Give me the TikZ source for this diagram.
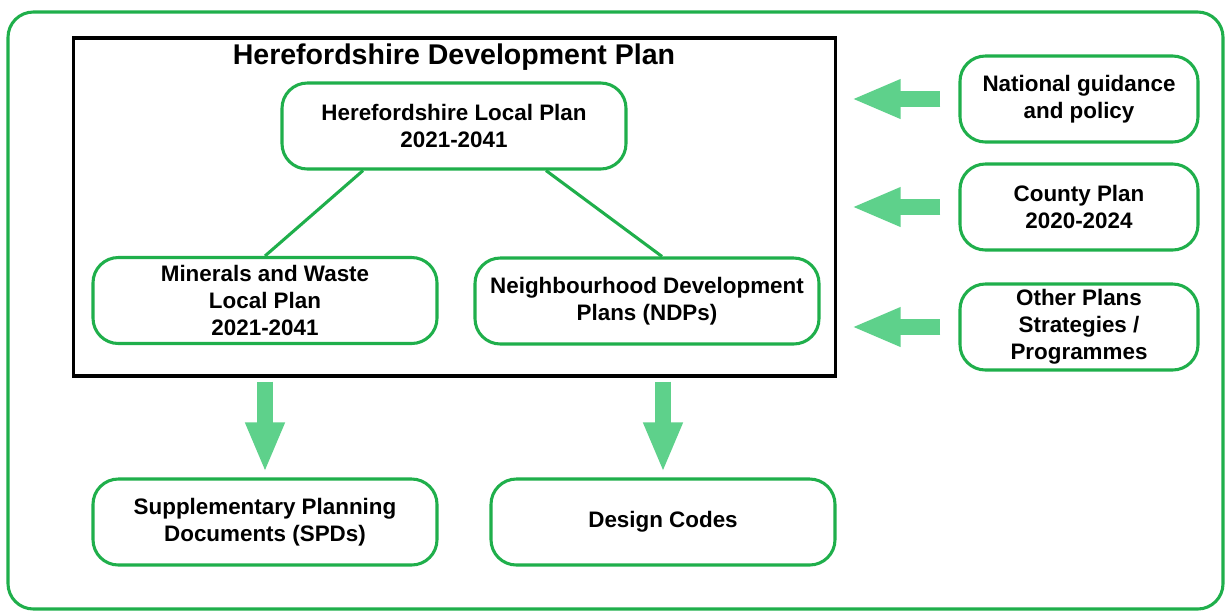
\documentclass[tikz,border=0pt]{standalone}
\usepackage{fontspec}
\setmainfont{Liberation Sans}
\usetikzlibrary{arrows.meta,calc}
\definecolor{frameg}{HTML}{1FAF4B}
\definecolor{arrowg}{HTML}{5ED18B}
\tikzset{
  plannode/.style={draw=frameg, line width=2.3pt, rounded corners=19pt, fill=white,
    minimum width=258pt, minimum height=64.5pt, align=center, inner sep=0pt,
    font=\bfseries\fontsize{16.8}{20.2}\selectfont},
  sidenode/.style={plannode, minimum width=178.5pt},
  link/.style={draw=frameg, line width=2.3pt},
  bigarrow/.style={draw=arrowg, line width=11.5pt, line cap=butt,
    -{Triangle[length=37pt, width=27pt]}},
  bigarrowv/.style={draw=arrowg, line width=12pt, line cap=butt,
    -{Triangle[length=37.5pt, width=27pt]}},
}
\begin{document}
\begin{tikzpicture}[x=0.75pt, y=-0.75pt]
\useasboundingbox (0,0) rectangle (1226,612);
% outer frame
\draw[frameg, line width=2.3pt, rounded corners=19pt] (8,12) rectangle (1223,609);
% development plan box
\node[draw=black, line width=2.3pt, minimum width=572pt, minimum height=253.5pt, inner sep=0pt] (box) at (454.5,207) {};
\node[font=\bfseries\fontsize{21.4}{25}\selectfont] (title) at (454,57.5) {Herefordshire Development Plan};
% nodes
\node[plannode] (lp) at (454,126) {Herefordshire Local Plan\\2021-2041};
\node[plannode] (mw) at (265,300.5) {Minerals and Waste\\Local Plan\\2021-2041};
\node[plannode] (ndp) at (647,301) {Neighbourhood Development\\Plans (NDPs)};
\node[plannode] (spd) at (265,522) {Supplementary Planning\\Documents (SPDs)};
\node[plannode] (dc) at (663,522) {Design Codes};
\node[sidenode] (nat) at (1079,99) {National guidance\\and policy};
\node[sidenode] (cty) at (1079,207) {County Plan\\2020-2024};
\node[sidenode] (oth) at (1079,327) {Other Plans\\Strategies /\\Programmes};
% links
\draw[link] ($(lp.south)+(-91,0)$) -- (mw.north);
\draw[link] ($(lp.south)+(92,0)$) -- ($(ndp.north)+(15,0)$);
% side arrows
\draw[bigarrow] ($(nat.west)+(-18,0)$) -- ($(box.east |- nat.west)+(14,0)$);
\draw[bigarrow] ($(cty.west)+(-18,0)$) -- ($(box.east |- cty.west)+(14,0)$);
\draw[bigarrow] ($(oth.west)+(-18,0)$) -- ($(box.east |- oth.west)+(14,0)$);
% down arrows
\draw[bigarrowv] ($(box.south -| spd.north)+(0,4)$) -- ($(spd.north)+(0,-5)$);
\draw[bigarrowv] ($(box.south -| dc.north)+(0,4)$) -- ($(dc.north)+(0,-5)$);
\end{tikzpicture}
\end{document}
